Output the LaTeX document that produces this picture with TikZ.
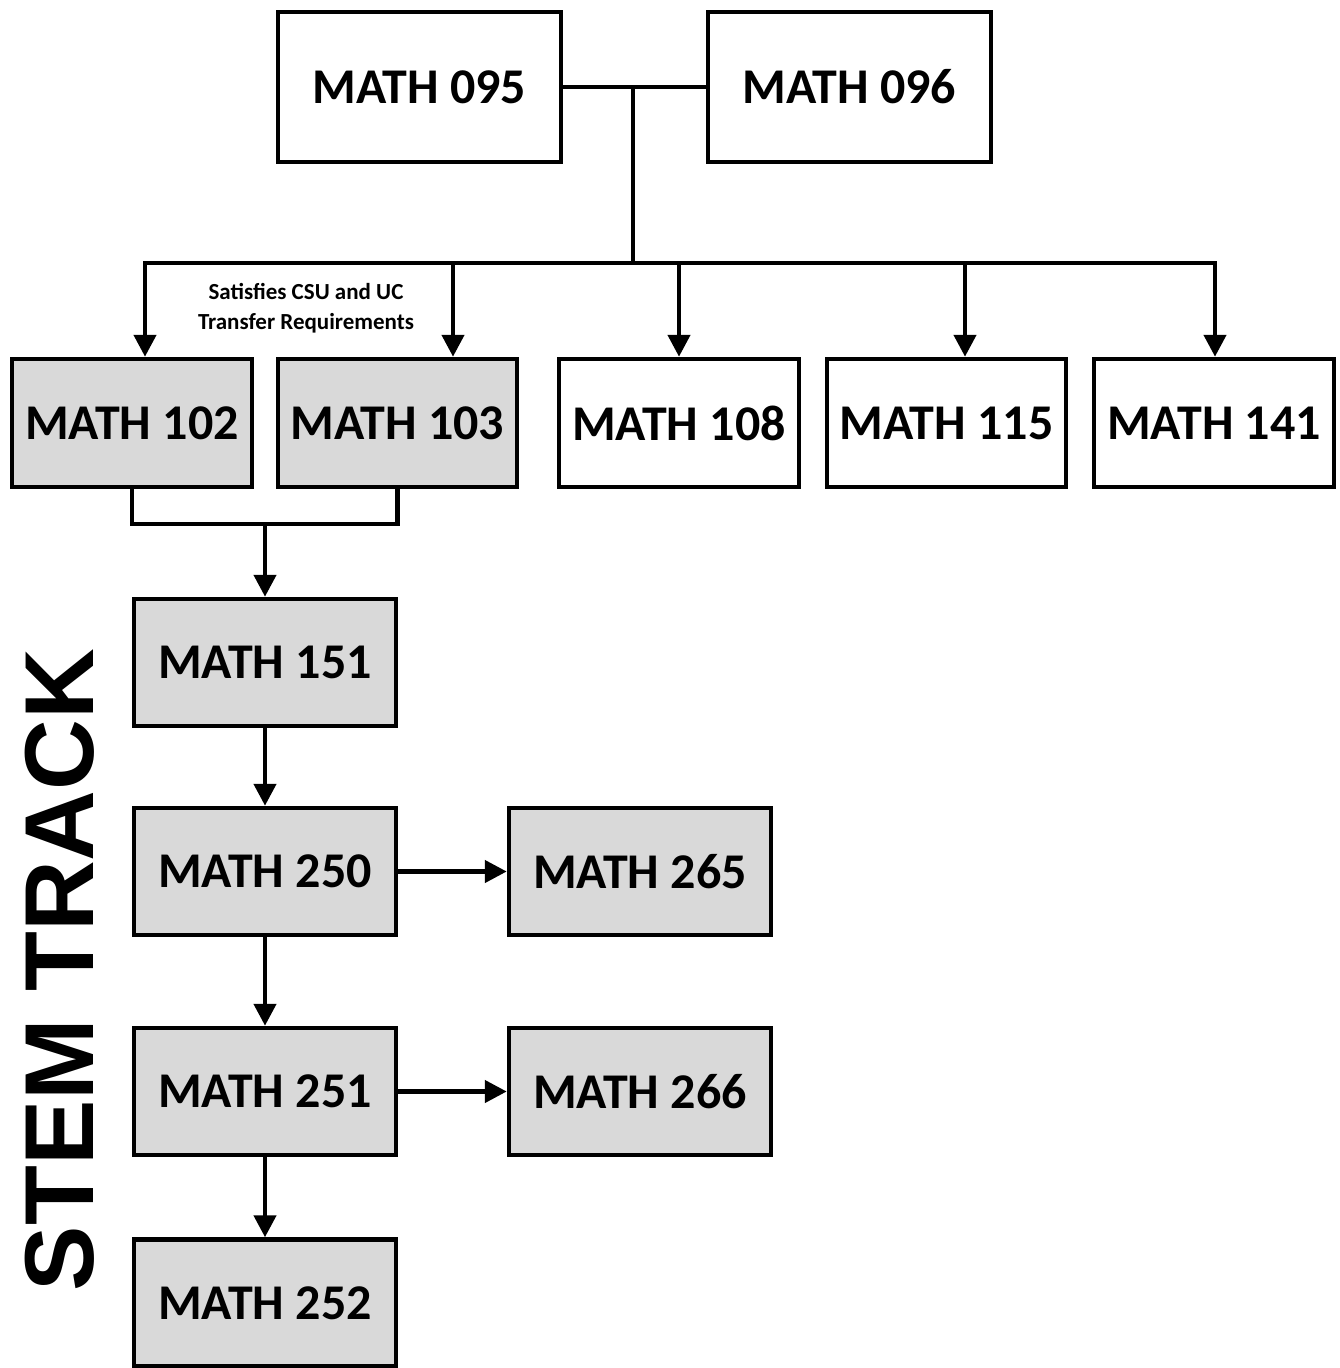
\documentclass[tikz,border=0pt]{standalone}
\usepackage{fontspec}
\setmainfont{Carlito}
\newfontfamily\stemfont{Liberation Sans}
\usetikzlibrary{arrows.meta}
\definecolor{boxgray}{HTML}{D9D9D9}
\tikzset{
  box/.style={draw=black, line width=4.5pt, fill=white, inner sep=0pt, font=\fontsize{50}{58}\selectfont\bfseries},
  graybox/.style={box, fill=boxgray},
  conn/.style={line width=4.5pt, draw=black},
  arr/.style={conn, -{Triangle[width=22pt,length=22pt]}}
}
\begin{document}
\begin{tikzpicture}[x=1pt,y=-1pt]
\useasboundingbox (0,0) rectangle (1339,1368);
% top boxes
\node[box, minimum width=283, minimum height=150] (m095) at (419.5,87) {MATH 095};
\node[box, minimum width=283, minimum height=150] (m096) at (849.5,87) {MATH 096};
% second row
\node[graybox, minimum width=240, minimum height=128] (m102) at (132,423) {MATH 102};
\node[graybox, minimum width=239, minimum height=128] (m103) at (397.5,423) {MATH 103};
\node[box, minimum width=240, minimum height=128] (m108) at (679,423) {MATH 108};
\node[box, minimum width=239, minimum height=128] (m115) at (946.5,423) {MATH 115};
\node[box, minimum width=240, minimum height=128] (m141) at (1214,423) {MATH 141};
% stem column
\node[graybox, minimum width=262, minimum height=127] (m151) at (265,662.5) {MATH 151};
\node[graybox, minimum width=262, minimum height=127] (m250) at (265,871.5) {MATH 250};
\node[graybox, minimum width=262, minimum height=127] (m265) at (640,871.5) {MATH 265};
\node[graybox, minimum width=262, minimum height=127] (m251) at (265,1091.5) {MATH 251};
\node[graybox, minimum width=262, minimum height=127] (m266) at (640,1091.5) {MATH 266};
\node[graybox, minimum width=262, minimum height=127] (m252) at (265,1303) {MATH 252};
% labels
\node[align=center, inner sep=0pt, font=\fontsize{23}{30}\selectfont\bfseries] (note) at (306,308) {Satisfies CSU and UC\\Transfer Requirements};
\node[rotate=90, inner sep=0pt, font=\fontsize{98}{110}\stemfont\bfseries] (stem) at (60,970) {STEM TRACK};
% connectors top
\coordinate (j1) at (633,87);
\coordinate (j0) at (633,263);
\coordinate (bL) at (145,263);
\coordinate (b103) at (453,263);
\coordinate (b108) at (679,263);
\coordinate (b115) at (965,263);
\coordinate (bR) at (1215,263);
\draw[conn] (m095.east) -- (m096.west);
\draw[conn] (j1) -- (j0);
\draw[conn, line cap=rect] (bL) -- (bR);
\draw[arr] (bL) -- (bL |- m102.north);
\draw[arr] (b103) -- (b103 |- m103.north);
\draw[arr] (b108) -- (b108 |- m108.north);
\draw[arr] (b115) -- (b115 |- m115.north);
\draw[arr] (bR) -- (bR |- m141.north);
% join 102/103
\coordinate (j2) at (265,524);
\draw[conn] (m102.south) |- (j2) -| (m103.south);
\draw[arr] (j2) -- (m151.north);
\draw[arr] (m151.south) -- (m250.north);
\draw[arr] (m250.south) -- (m251.north);
\draw[arr] (m251.south) -- (m252.north);
\draw[arr] (m250.east) -- (m265.west);
\draw[arr] (m251.east) -- (m266.west);
\end{tikzpicture}
\end{document}
